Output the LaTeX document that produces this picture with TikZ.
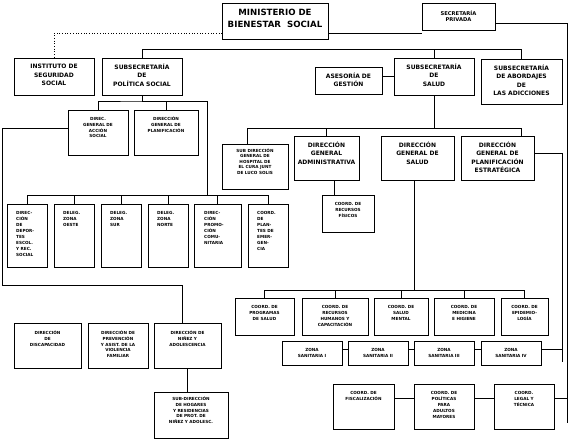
\documentclass[tikz,border=0pt]{standalone}
\usepackage{fontspec}
\setmainfont{DejaVu Sans}
\newcommand\orgBig{\fontsize{8.6}{12}\selectfont\bfseries}
\newcommand\orgMid{\fontsize{6}{8.3}\selectfont\bfseries}
\newcommand\orgSec{\fontsize{5.2}{6.2}\selectfont\bfseries}
\newcommand\orgSm{\fontsize{4.2}{6}\selectfont\bfseries}
\newcommand\orgSmm{\fontsize{4.2}{5.6}\selectfont\bfseries}
\tikzset{
  box/.style={draw, line width=0.7pt, inner sep=0pt, outer sep=0pt},
  ln/.style={line width=0.7pt},
  tc/.style={align=center, anchor=north, inner sep=0pt},
  tl/.style={align=left, anchor=north west, inner sep=0pt},
}
\newcommand\ob[7]{%
  \node[box, minimum width={(#4-#2)*1pt}, minimum height={(#5-#3)*1pt}, anchor=north west] (#1) at (#2,#3) {};
  \node[tc,#6] (#1t) at (#1.north) {\rule{0pt}{1em}#7};}
\newcommand\obl[7]{%
  \node[box, minimum width={(#4-#2)*1pt}, minimum height={(#5-#3)*1pt}, anchor=north west] (#1) at (#2,#3) {};
  \node[tl,#6] (#1t) at (#1.north west) {\rule{0pt}{1em}#7};}
\begin{document}
\begin{tikzpicture}[x=1pt,y=-1pt]
\path[use as bounding box, fill=white] (0,0) rectangle (569,440);
% top level
\ob{min}{222}{3}{328}{39}{font=\orgBig, yshift=-3.6pt}{MINISTERIO DE\\BIENESTAR\ \ SOCIAL}
\ob{sec}{422}{3}{495}{30}{font=\orgSec, yshift=-6.6pt}{SECRETARÍA\\PRIVADA}
\ob{inst}{14}{58}{94}{95}{font=\orgMid, yshift=-4.6pt}{INSTITUTO DE\\SEGURIDAD\\SOCIAL}
\ob{sps}{102}{58}{182}{95}{font=\orgMid, yshift=-5.2pt}{SUBSECRETARÍA\\DE\\POLÍTICA SOCIAL}
\ob{ases}{315}{67}{382}{94}{font=\orgMid, yshift=-5.2pt}{ASESORÍA DE\\GESTIÓN}
\ob{ssal}{394}{58}{474}{95}{font=\orgMid, yshift=-5.2pt}{SUBSECRETARÍA\\DE\\SALUD}
\ob{abor}{481}{59}{562}{104}{font=\orgMid, yshift=-5.2pt}{SUBSECRETARÍA\\DE ABORDAJES\\DE\\LAS ADICCIONES}
% politica social
\ob{das}{68}{110}{128}{155}{font=\orgSmm, yshift=-6.4pt}{DIREC.\\GENERAL DE\\ACCIÓN\\SOCIAL}
\ob{dpl}{134}{110}{198}{155}{font=\orgSmm, yshift=-6.4pt}{DIRECCIÓN\\GENERAL DE\\PLANIFICACIÓN}
\obl{r1}{7}{204}{47}{267}{font=\orgSm, xshift=9pt, yshift=-6.4pt}{DIREC-\\CIÓN\\DE\\DEPOR-\\TES\\ESCOL.\\Y REC.\\SOCIAL}
\obl{r2}{54}{204}{94}{267}{font=\orgSm, xshift=9pt, yshift=-6.4pt}{DELEG.\\ZONA\\OESTE}
\obl{r3}{101}{204}{141}{267}{font=\orgSm, xshift=9pt, yshift=-6.4pt}{DELEG.\\ZONA\\SUR}
\obl{r4}{148}{204}{188}{267}{font=\orgSm, xshift=9pt, yshift=-6.4pt}{DELEG.\\ZONA\\NORTE}
\obl{r5}{194}{204}{241}{267}{font=\orgSm, xshift=10pt, yshift=-6.4pt}{DIREC-\\CIÓN\\PROMO-\\CIÓN\\COMU-\\NITARIA}
\obl{r6}{248}{204}{288}{267}{font=\orgSm, xshift=9pt, yshift=-6.4pt}{COORD.\\DE\\PLAN-\\TES DE\\EMER-\\GEN-\\CIA}
\ob{b1}{14}{323}{81}{368}{font=\orgSm, yshift=-7.4pt}{DIRECCIÓN\\DE\\DISCAPACIDAD}
\ob{b2}{88}{323}{148}{368}{font=\orgSmm, yshift=-7.4pt}{DIRECCIÓN DE\\PREVENCIÓN\\Y ASIST. DE LA\\VIOLENCIA\\FAMILIAR}
\ob{b3}{154}{323}{221}{368}{font=\orgSm, yshift=-7.4pt}{DIRECCIÓN DE\\NIÑEZ Y\\ADOLESCENCIA}
\ob{b4}{154}{392}{228}{438}{font=\orgSmm, yshift=-4.4pt}{SUB-DIRECCIÓN\\DE HOGARES\\Y RESIDENCIAS\\DE PROT. DE\\NIÑEZ Y ADOLESC.}
% salud
\ob{sdh}{222}{144}{288}{189}{font=\orgSmm, yshift=-3.6pt}{SUB DIRECCIÓN\\GENERAL DE\\HOSPITAL DE\\EL CURA JUNT\\DE LUCO SOLIS}
\ob{dga}{294}{136}{359}{180}{font=\orgMid, yshift=-5.2pt}{DIRECCIÓN\\GENERAL\\ADMINISTRATIVA}
\ob{dgs}{381}{136}{454}{180}{font=\orgMid, yshift=-5.2pt}{DIRECCIÓN\\GENERAL DE\\SALUD}
\ob{dpe}{461}{136}{534}{180}{font=\orgMid, yshift=-5.2pt}{DIRECCIÓN\\GENERAL DE\\PLANIFICACIÓN\\ESTRATÉGICA}
\ob{crf}{322}{195}{374}{232}{font=\orgSm, yshift=-6.4pt}{COORD. DE\\RECURSOS\\FÍSICOS}
\ob{c1}{235}{298}{294}{335}{font=\orgSm, yshift=-6.4pt}{COORD. DE\\PROGRAMAS\\DE SALUD}
\ob{c2}{302}{298}{368}{335}{font=\orgSm, yshift=-6.4pt}{COORD. DE\\RECURSOS\\HUMANOS Y\\CAPACITACIÓN}
\ob{c3}{374}{298}{428}{335}{font=\orgSm, yshift=-6.4pt}{COORD. DE\\SALUD\\MENTAL}
\ob{c4}{434}{298}{494}{335}{font=\orgSm, yshift=-6.4pt}{COORD. DE\\MEDICINA\\E HIGIENE}
\ob{c5}{501}{298}{548}{335}{font=\orgSm, yshift=-6.4pt}{COORD. DE\\EPIDEMIO-\\LOGÍA}
\ob{z1}{282}{341}{342}{365}{font=\orgSm, yshift=-6.4pt}{ZONA\\SANITARIA I}
\ob{z2}{348}{341}{408}{365}{font=\orgSm, yshift=-6.4pt}{ZONA\\SANITARIA II}
\ob{z3}{414}{341}{474}{365}{font=\orgSm, yshift=-6.4pt}{ZONA\\SANITARIA III}
\ob{z4}{481}{341}{541}{365}{font=\orgSm, yshift=-6.4pt}{ZONA\\SANITARIA IV}
\ob{f1}{333}{384}{394}{429}{font=\orgSm, yshift=-6.4pt}{COORD. DE\\FISCALIZACIÓN}
\ob{f2}{414}{384}{474}{429}{font=\orgSm, yshift=-6.4pt}{COORD. DE\\POLÍTICAS\\PARA\\ADULTOS\\MAYORES}
\ob{f3}{494}{384}{554}{429}{font=\orgSm, yshift=-6.4pt}{COORD.\\LEGAL Y\\TÉCNICA}
% connectors top
\draw[ln, dotted] ([yshift=6pt]min.south west) -| (inst.north);
\draw[ln] ([yshift=6pt]min.south east) -- ([yshift=-3pt]sec.south west);
\coordinate (rr2) at (567,423);
\draw[ln] ([yshift=7pt]sec.south east) -| (rr2);
\draw[ln] (sps.north) -- ++(0,-9) -| (abor.north);
\draw[ln] (ssal.north) -- ++(0,-9);
\draw[ln] (ssal.west) -- (ssal.west -| ases.east);
% politica social
\draw[ln] (sps.south) -- ++(0,6) coordinate (j1);
\draw[ln] (das.north) |- (j1) -| (dpl.north);
\coordinate (rbus) at (207,195);
\draw[ln] (j1) -| (rbus);
\draw[ln] (r1.north |- rbus) -- (r6.north |- rbus);
\foreach \r in {r1,r2,r3,r4,r5,r6} {\draw[ln] (\r.north) -- (\r.north |- rbus);}
\coordinate (lb) at (2,285);
\draw[ln] ([yshift=4.5pt]das.west) -| (lb) -| ([xshift=-5.5pt]b3.north);
\draw[ln] (b3.south) -- (b3.south |- b4.north);
% salud
\coordinate (j2) at (434,128);
\draw[ln] (ssal.south) -- (j2);
\draw[ln] ([xshift=-8pt]sdh.north) |- (j2);
\draw[ln] (dga.north) -- (dga.north |- j2);
\draw[ln] ([xshift=23.5pt]dpe.north) |- (j2);
\draw[ln] ([xshift=7.5pt]dga.south) coordinate (q0) -- (q0 |- crf.north);
\coordinate (j3) at (414,290);
\draw[ln] ([xshift=-3.5pt]dgs.south) -- (j3);
\draw[ln] (c1.north |- j3) -- (c5.north |- j3);
\foreach \c in {c1,c2,c3,c4,c5} {\draw[ln] (\c.north) -- (\c.north |- j3);}
\coordinate (rr1) at (562,362);
\draw[ln] ([yshift=5pt]dpe.east) -| (rr1);
\draw[ln] ([yshift=4pt]z1.east) coordinate (q1) -- (q1 -| z2.west);
\draw[ln] ([yshift=4pt]z2.east) coordinate (q2) -- (q2 -| z3.west);
\draw[ln] ([yshift=4pt]z3.east) coordinate (q3) -- (q3 -| z4.west);
\draw[ln] ([yshift=4pt]z4.east) coordinate (q4) -- (q4 -| rr1);
\draw[ln] ([yshift=-14pt]f1.north east) coordinate (q5) -- (q5 -| f2.west);
\draw[ln] ([yshift=-14pt]f2.north east) coordinate (q6) -- (q6 -| f3.west);
\draw[ln] ([yshift=-14pt]f3.north east) coordinate (q7) -- (q7 -| rr2);
\end{tikzpicture}
\end{document}
